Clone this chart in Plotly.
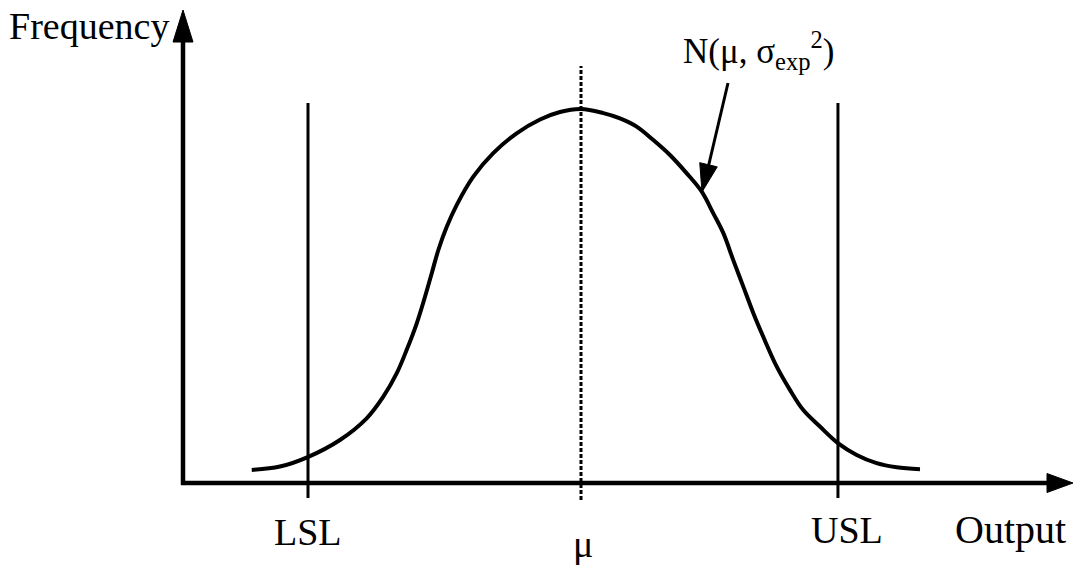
import plotly.graph_objects as go

# ---- data (x in output units with mu = 0, y = relative frequency, peak = 1) ----
curve_x = [-2.195, -2.007, -1.818, -1.607, -1.429, -1.318, -1.229, -1.162, -1.095, -1.04,
           -0.995, -0.951, -0.895, -0.829, -0.718, -0.585, -0.429, -0.273, -0.14, 0.0,
           0.149, 0.26, 0.371, 0.482, 0.593, 0.705, 0.805, 0.882, 0.949, 1.015,
           1.082, 1.149, 1.215, 1.305, 1.393, 1.482, 1.593, 1.715, 1.838, 1.971,
           2.105, 2.26]
curve_y = [0.035, 0.044, 0.070, 0.115, 0.173, 0.231, 0.293, 0.356, 0.427, 0.498,
           0.561, 0.623, 0.685, 0.743, 0.819, 0.882, 0.935, 0.972, 0.992, 1.0,
           0.989, 0.975, 0.953, 0.917, 0.877, 0.828, 0.779, 0.721, 0.668, 0.596,
           0.525, 0.454, 0.391, 0.311, 0.249, 0.195, 0.151, 0.106, 0.075, 0.053,
           0.042, 0.037]
LSL = -1.82
USL = 1.713
MU = 0.0
spec_labels = ["LSL", "USL"]
mu_label = "μ"
x_title = "Output"
y_title = "Frequency"
dist_label = "N(μ, σ<sub>exp</sub><sup>2</sup>)"

# ---- layout helpers (pixel <-> data mapping for a 1075x565 canvas) ----
W, H = 1075, 565
PX0, PY0, SX, SY = 581.0, 483.0, 150.0, 374.0


def X(px):
    return (px - PX0) / SX


def Y(py):
    return (PY0 - py) / SY


def head(tip, tail, length, width):
    (tx, ty), (bx, by) = tip, tail
    dx, dy = tx - bx, ty - by
    n = (dx * dx + dy * dy) ** 0.5
    ux, uy = dx / n, dy / n
    px, py = -uy, ux
    cx, cy = tx - ux * length, ty - uy * length
    p1 = (cx + px * width / 2, cy + py * width / 2)
    p2 = (cx - px * width / 2, cy - py * width / 2)
    pts = [(tx, ty), p1, p2]
    return "M " + " L ".join(f"{X(a):.4f},{Y(b):.4f}" for a, b in pts) + " Z"


FONT = "Liberation Serif, Times New Roman, serif"

fig = go.Figure()
fig.add_trace(go.Scatter(x=curve_x, y=curve_y, mode="lines",
                         line=dict(color="black", width=4, shape="spline", smoothing=1.0),
                         hoverinfo="skip"))

shapes = []
# axes
shapes.append(dict(type="line", xref="x", yref="y", x0=X(183), x1=X(183), y0=Y(485), y1=Y(30),
                   line=dict(color="black", width=4.5)))
shapes.append(dict(type="line", xref="x", yref="y", x0=X(181), x1=X(1052), y0=Y(483), y1=Y(483),
                   line=dict(color="black", width=4.5)))
shapes.append(dict(type="path", xref="x", yref="y", path=head((183, 10), (183, 483), 32, 20),
                   fillcolor="black", line=dict(color="black", width=1)))
shapes.append(dict(type="path", xref="x", yref="y", path=head((1073, 483), (183, 483), 26, 19),
                   fillcolor="black", line=dict(color="black", width=1)))
# spec limits
for v in (LSL, USL):
    shapes.append(dict(type="line", xref="x", yref="y", x0=v, x1=v, y0=Y(498), y1=Y(103),
                       line=dict(color="black", width=3)))
# mean
shapes.append(dict(type="line", xref="x", yref="y", x0=MU, x1=MU, y0=Y(500), y1=Y(66),
                   line=dict(color="black", width=3, dash="4px,2px")))
# distribution pointer
shapes.append(dict(type="line", xref="x", yref="y", x0=X(728), x1=X(708), y0=Y(83), y1=Y(168),
                   line=dict(color="black", width=3)))
shapes.append(dict(type="path", xref="x", yref="y", path=head((702, 192), (728, 83), 28, 18),
                   fillcolor="black", line=dict(color="black", width=1)))

ann = []
ann.append(dict(text=y_title, x=X(7), y=Y(26), xref="x", yref="y", xanchor="left", yanchor="middle",
                showarrow=False, font=dict(family=FONT, size=38, color="black")))
ann.append(dict(text=dist_label, x=X(758), y=Y(50), xref="x", yref="y", xanchor="center", yanchor="middle",
                showarrow=False, font=dict(family=FONT, size=35, color="black")))
ann.append(dict(text=spec_labels[0], x=LSL, y=Y(532), xref="x", yref="y", xanchor="center", yanchor="middle",
                showarrow=False, font=dict(family=FONT, size=38, color="black")))
ann.append(dict(text=spec_labels[1], x=X(847), y=Y(530), xref="x", yref="y", xanchor="center", yanchor="middle",
                showarrow=False, font=dict(family=FONT, size=38, color="black")))
ann.append(dict(text=x_title, x=X(1010), y=Y(529), xref="x", yref="y", xanchor="center", yanchor="middle",
                showarrow=False, font=dict(family=FONT, size=40, color="black")))
ann.append(dict(text=mu_label, x=X(583), y=Y(544), xref="x", yref="y", xanchor="center", yanchor="middle",
                showarrow=False, font=dict(family=FONT, size=38, color="black")))

fig.update_layout(
    width=W, height=H,
    margin=dict(l=0, r=0, t=0, b=0),
    paper_bgcolor="white", plot_bgcolor="white",
    showlegend=False,
    xaxis=dict(range=[X(0), X(W)], visible=False, fixedrange=True),
    yaxis=dict(range=[Y(H), Y(0)], visible=False, fixedrange=True),
    shapes=shapes, annotations=ann,
)

fig.write_html("out.html", config={"displayModeBar": False},
               post_script="document.body.style.margin='0px';document.body.style.overflow='hidden';")
